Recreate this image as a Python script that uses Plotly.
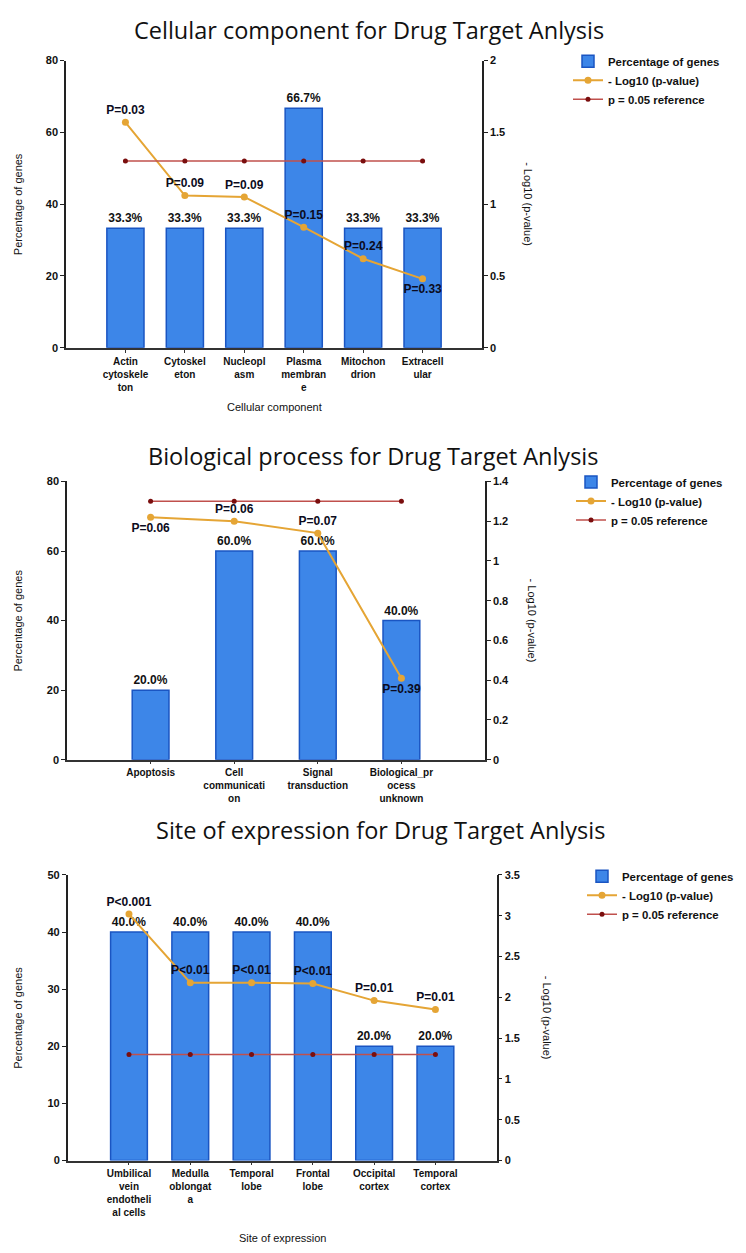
import plotly.graph_objects as go

# ---------------- data ----------------
cc_categories = ["Actin<br>cytoskele<br>ton", "Cytoskel<br>eton", "Nucleopl<br>asm",
                 "Plasma<br>membran<br>e", "Mitochon<br>drion", "Extracell<br>ular"]
cc_percent = [33.3, 33.3, 33.3, 66.7, 33.3, 33.3]
cc_neglog = [1.57, 1.06, 1.05, 0.84, 0.62, 0.48]
cc_plabels = ["P=0.03", "P=0.09", "P=0.09", "P=0.15", "P=0.24", "P=0.33"]

bp_categories = ["Apoptosis", "Cell<br>communicati<br>on", "Signal<br>transduction",
                 "Biological_pr<br>ocess<br>unknown"]
bp_percent = [20.0, 60.0, 60.0, 40.0]
bp_neglog = [1.22, 1.20, 1.14, 0.41]
bp_plabels = ["P=0.06", "P=0.06", "P=0.07", "P=0.39"]

se_categories = ["Umbilical<br>vein<br>endotheli<br>al cells", "Medulla<br>oblongat<br>a",
                 "Temporal<br>lobe", "Frontal<br>lobe", "Occipital<br>cortex", "Temporal<br>cortex"]
se_percent = [40.0, 40.0, 40.0, 40.0, 20.0, 20.0]
se_neglog = [3.02, 2.18, 2.18, 2.17, 1.96, 1.85]
se_plabels = ["P<0.001", "P<0.01", "P<0.01", "P<0.01", "P=0.01", "P=0.01"]

ref_value = 1.30  # -log10(0.05)

titles = ["Cellular component for Drug Target Anlysis",
          "Biological process for Drug Target Anlysis",
          "Site of expression for Drug Target Anlysis"]
x_titles = ["Cellular component", "", "Site of expression"]
legend_names = ["Percentage of genes", "- Log10 (p-value)", "p = 0.05 reference"]

left_ticks = [[0, 20, 40, 60, 80], [0, 20, 40, 60, 80], [0, 10, 20, 30, 40, 50]]
right_tickvals = [[0, 0.5, 1, 1.5, 2],
                  [0, 0.2, 0.4, 0.6, 0.8, 1.0, 1.2, 1.4],
                  [0, 0.5, 1, 1.5, 2, 2.5, 3, 3.5]]
right_ticktext = [["0", "0.5", "1", "1.5", "2"],
                  ["0", "0.2", "0.4", "0.6", "0.8", "1", "1.2", "1.4"],
                  ["0", "0.5", "1", "1.5", "2", "2.5", "3", "3.5"]]

# ---------------- style / layout ----------------
OFF = 8                      # page body margin
W, H = 746 - OFF, 1253 - OFF
FONT = "Arial"
BAR_FILL = "#3D86E8"
BAR_LINE = "#1A55C2"
LINE_COL = "#E5A535"
REF_LINE = "#C0504D"
REF_MARK = "#7A0E0E"

# positions given in page pixels
panels = [
    dict(cats=cc_categories, pct=cc_percent, nl=cc_neglog, pl=cc_plabels,
         pos=["top center"] * 5 + ["bottom center"],
         xpx=(66, 482), ypx=(55, 345), lrange=[0, 80], rrange=[0, 2], bw=0.625,
         title_y=24, title_x=369, leg=(568, 41), rtitle_x=528, xt_y=405),
    dict(cats=bp_categories, pct=bp_percent, nl=bp_neglog, pl=bp_plabels,
         pos=["bottom center", "top center", "top center", "bottom center"],
         xpx=(67, 485), ypx=(480, 761), lrange=[0, 80], rrange=[0, 1.4], bw=0.44,
         title_y=454, title_x=373, leg=(571, 466), rtitle_x=532, xt_y=None),
    dict(cats=se_categories, pct=se_percent, nl=se_neglog, pl=se_plabels,
         pos=["top center"] * 6,
         xpx=(67.7, 496.7), ypx=(877.3, 1165.7), lrange=[0, 50], rrange=[0, 3.5], bw=0.6,
         title_y=832, title_x=380, leg=(582, 864), rtitle_x=547, xt_y=1244),
]


def px_x(x):
    return (x - OFF) / W


def px_y(y):
    return 1 - (y - OFF) / H


fig = go.Figure()
annotations = []
layout = dict(width=W, height=H, margin=dict(l=0, r=0, t=0, b=0),
              paper_bgcolor="white", plot_bgcolor="white", showlegend=True,
              font=dict(family=FONT, size=11, color="#111"))

for i, p in enumerate(panels):
    n = i + 1
    xa = "x" if n == 1 else f"x{n}"
    ly = 2 * n - 1
    ry = 2 * n
    ya_l = "y" if ly == 1 else f"y{ly}"
    ya_r = f"y{ry}"
    leg = "legend" if n == 1 else f"legend{n}"
    xs = list(range(len(p["cats"])))

    fig.add_trace(go.Bar(
        x=xs, y=p["pct"], width=p["bw"], name=legend_names[0],
        marker=dict(color=BAR_FILL, line=dict(color=BAR_LINE, width=1.5)),
        text=[f"{v:.1f}%" for v in p["pct"]], textposition="outside",
        textfont=dict(family=FONT, size=12, color="#111", weight="bold"),
        cliponaxis=False, xaxis=xa, yaxis=ya_l, legend=leg))
    fig.add_trace(go.Scatter(
        x=xs, y=p["nl"], name=legend_names[1], mode="lines+markers+text",
        line=dict(color=LINE_COL, width=2), marker=dict(color=LINE_COL, size=7),
        text=p["pl"], textposition=p["pos"],
        textfont=dict(family=FONT, size=12, color="#0b0b20", weight="bold"),
        cliponaxis=False, xaxis=xa, yaxis=ya_r, legend=leg))
    fig.add_trace(go.Scatter(
        x=xs, y=[ref_value] * len(xs), name=legend_names[2], mode="lines+markers",
        line=dict(color=REF_LINE, width=1.5), marker=dict(color=REF_MARK, size=5),
        cliponaxis=False, xaxis=xa, yaxis=ya_r, legend=leg))

    xd = [px_x(p["xpx"][0]), px_x(p["xpx"][1])]
    yd = [px_y(p["ypx"][1]), px_y(p["ypx"][0])]
    layout["xaxis" if n == 1 else f"xaxis{n}"] = dict(
        domain=xd, anchor=ya_l, range=[-1, len(xs)], tickmode="array",
        tickvals=xs, ticktext=p["cats"], showline=True, linecolor="#333", linewidth=1.5,
        ticks="outside", ticklen=3, tickcolor="#333", showgrid=False, zeroline=False,
        tickfont=dict(family=FONT, size=10, color="#111", weight="bold"), fixedrange=True)
    layout["yaxis" if ly == 1 else f"yaxis{ly}"] = dict(
        domain=yd, anchor=xa, range=p["lrange"], tickvals=left_ticks[i],
        showline=True, linecolor="#222", linewidth=1.5, ticks="outside", ticklen=4,
        tickcolor="#222", showgrid=False, zeroline=False,
        tickfont=dict(family=FONT, size=11, color="#111", weight="bold"))
    layout[f"yaxis{ry}"] = dict(
        domain=yd, anchor=xa, overlaying=ya_l, side="right", range=p["rrange"],
        tickmode="array", tickvals=right_tickvals[i], ticktext=right_ticktext[i],
        showline=True, linecolor="#222", linewidth=1.5, ticks="outside", ticklen=4,
        tickcolor="#222", showgrid=False, zeroline=False,
        tickfont=dict(family=FONT, size=11, color="#111", weight="bold"))
    layout[leg] = dict(x=px_x(p["leg"][0]), y=px_y(p["leg"][1]), xanchor="left",
                       yanchor="top", bgcolor="rgba(0,0,0,0)", traceorder="normal",
                       font=dict(family=FONT, size=11.4, color="#111", weight="bold"),
                       itemwidth=30)

    mid_y = px_y((p["ypx"][0] + p["ypx"][1]) / 2)
    annotations.append(dict(text=titles[i], x=px_x(p["title_x"]), y=px_y(p["title_y"]),
                            xref="paper", yref="paper", showarrow=False,
                            xanchor="center", yanchor="middle",
                            font=dict(family="Open Sans", size=23.5, color="#111")))
    annotations.append(dict(text="Percentage of genes", x=px_x(18), y=mid_y,
                            xref="paper", yref="paper", showarrow=False, textangle=-90,
                            xanchor="center", yanchor="middle",
                            font=dict(family=FONT, size=11, color="#111")))
    annotations.append(dict(text="- Log10 (p-value)", x=px_x(p["rtitle_x"]), y=mid_y,
                            xref="paper", yref="paper", showarrow=False, textangle=90,
                            xanchor="center", yanchor="middle",
                            font=dict(family=FONT, size=11, color="#111")))
    if x_titles[i]:
        annotations.append(dict(text=x_titles[i], x=px_x((p["xpx"][0] + p["xpx"][1]) / 2),
                                y=px_y(p["xt_y"]), xref="paper", yref="paper",
                                xanchor="center", yanchor="middle", showarrow=False,
                                font=dict(family=FONT, size=11, color="#111")))

layout["annotations"] = annotations
fig.update_layout(**layout)
fig.write_html("out.html")
